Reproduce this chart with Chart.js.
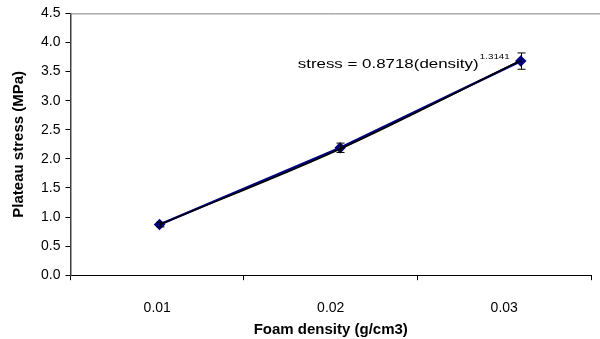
<!DOCTYPE html>
<html>
<head>
<meta charset="utf-8">
<script src="https://cdn.jsdelivr.net/npm/chart.js@4/dist/chart.umd.min.js"></script>
<style>
  html, body { margin: 0; padding: 0; background: #fff; }
  #wrap { width: 600px; height: 339px; }
</style>
</head>
<body>
<div id="wrap"><canvas id="stressChart"></canvas></div>
<script>
// data
var densities = ['0.01', '0.02', '0.03']; // category labels on the x axis
var pointPos = [1, 2, 3]; // position of each category on the data axis
var stress = [0.87, 2.19, 3.68]; // measured plateau stress (MPa)
var stressErr = [0.04, 0.08, 0.14]; // error bar half-heights
var trendStress = [0.87, 2.17, 3.69]; // power trendline as drawn
var yTicks = [0, 0.5, 1, 1.5, 2, 2.5, 3, 3.5, 4, 4.5];

var font = 'Liberation Sans, Arial, sans-serif';

// draws the error bars, the top border and the fit equation
var extras = {
  id: 'extras',
  afterDatasetsDraw: function(chart) {
    var c = chart.ctx;
    var area = chart.chartArea;
    var ys = chart.scales.y;
    var meta = chart.getDatasetMeta(0);

    // grey top border of the plot area
    c.save();
    c.strokeStyle = '#808080';
    c.lineWidth = 1;
    c.beginPath();
    c.moveTo(area.left, area.top + 0.5);
    c.lineTo(chart.width, area.top + 0.5);
    c.stroke();

    // error bars
    c.strokeStyle = '#000';
    c.lineWidth = 1;
    meta.data.forEach(function(pt, i) {
      var x = Math.round(pt.x) + 0.5;
      var yHi = ys.getPixelForValue(stress[i] + stressErr[i]);
      var yLo = ys.getPixelForValue(stress[i] - stressErr[i]);
      c.beginPath();
      c.moveTo(x, yHi); c.lineTo(x, yLo);
      c.moveTo(x - 4, yHi); c.lineTo(x + 4, yHi);
      c.moveTo(x - 4, yLo); c.lineTo(x + 4, yLo);
      c.stroke();
    });

    // fit equation, placed left of the last point (text is wide in the original)
    var last = meta.data[2];
    var tx = last.x - 223;
    var ty = ys.getPixelForValue(3.63);
    c.translate(tx, ty);
    c.scale(1.3, 1);
    c.fillStyle = '#000';
    c.textBaseline = 'middle';
    c.font = '13px ' + font;
    c.fillText('stress = 0.8718(density)', 0, 0);
    var w = c.measureText('stress = 0.8718(density)').width;
    c.font = '7.5px ' + font;
    c.fillText('1.3141', w + 1, -7);
    c.restore();
  }
};

var ctx = document.getElementById('stressChart').getContext('2d');

var myChart = new Chart(ctx, {
  type: 'line',
  data: {
    labels: densities,
    datasets: [{
      label: 'stress',
      data: pointPos.map(function(p, i) { return { x: p, y: stress[i] }; }),
      xAxisID: 'xd',
      order: 1,
      borderColor: '#000080',
      borderWidth: 2.5,
      pointStyle: 'rectRot', // diamond markers
      pointRadius: 4,
      pointBackgroundColor: '#000080',
      pointBorderColor: '#000080',
      tension: 0
    }, {
      label: 'trend',
      data: pointPos.map(function(p, i) { return { x: p, y: trendStress[i] }; }),
      xAxisID: 'xd',
      order: 0, // drawn on top of the data line
      borderColor: '#000',
      borderWidth: 1.5,
      pointRadius: 0,
      cubicInterpolationMode: 'monotone'
    }]
  },
  options: {
    responsive: true,
    maintainAspectRatio: false,
    animation: false,
    layout: { padding: { top: 11, right: 9, left: 10, bottom: 0 } },
    plugins: { legend: { display: false }, tooltip: { enabled: false } },
    scales: {
      x: {
        type: 'category',
        offset: true,
        grid: { offset: true, drawOnChartArea: false, tickLength: 5, color: '#000' },
        border: { color: '#000', width: 1 },
        ticks: { color: '#000', font: { family: font, size: 14 }, padding: 20 },
        title: { display: true, text: 'Foam density (g/cm3)', color: '#000', font: { family: font, size: 15, weight: 'bold' }, padding: { top: -16, bottom: 0 } }
      },
      xd: {
        type: 'linear',
        display: false,
        min: 0.507, // data points sit a little right of the label centres
        max: 3.389
      },
      y: {
        min: 0,
        max: 4.5,
        afterBuildTicks: function(axis) { axis.ticks = yTicks.map(function(v) { return { value: v }; }); },
        grid: { drawOnChartArea: false, tickLength: 5, color: '#000' },
        border: { color: '#404040', width: 1.5 },
        ticks: {
          color: '#000',
          font: { family: font, size: 14 },
          padding: 5,
          callback: function(v) { return v.toFixed(1); }
        },
        title: { display: true, text: 'Plateau stress (MPa)', color: '#000', font: { family: font, size: 15, weight: 'bold' }, padding: { top: 0, bottom: 8 } }
      }
    }
  },
  plugins: [extras]
});
</script>
</body>
</html>
